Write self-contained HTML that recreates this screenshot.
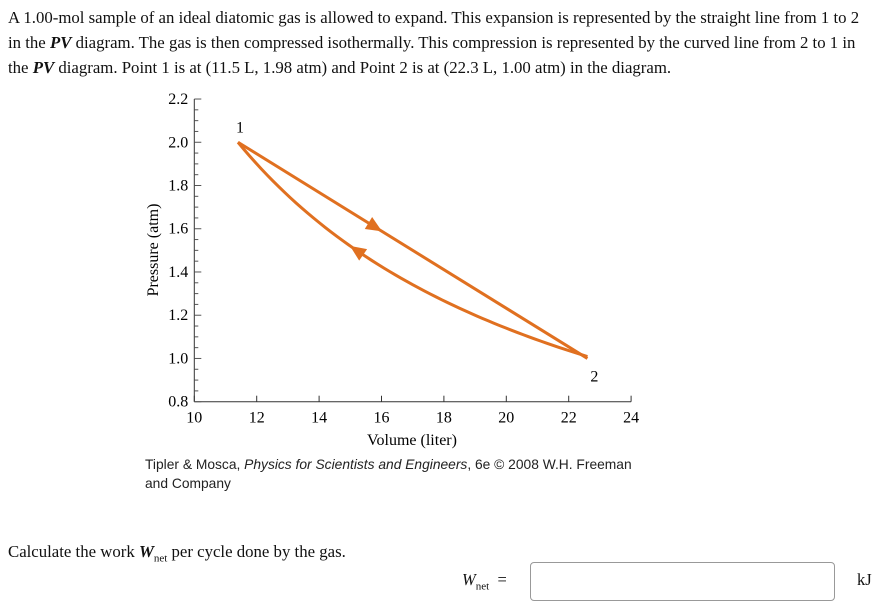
<!DOCTYPE html>
<html><head><meta charset="utf-8"><style>
body{margin:0;width:876px;height:604px;background:#fff;position:relative;overflow:hidden;font-family:"Liberation Serif",serif;color:#111}
.p{position:absolute;left:8px;top:5px;width:868px;font-size:16.8px;line-height:25px;white-space:nowrap}
.cap{position:absolute;left:145px;top:455px;font-family:"Liberation Sans",sans-serif;font-size:13.8px;line-height:19px;color:#222}
.q{position:absolute;left:8px;top:542px;font-size:16.8px}
</style></head><body>
<div class="p">A 1.00-mol sample of an ideal diatomic gas is allowed to expand. This expansion is represented by the straight line from 1 to 2<br>in the <b><i>PV</i></b> diagram. The gas is then compressed isothermally. This compression is represented by the curved line from 2 to 1 in<br>the <b><i>PV</i></b> diagram. Point 1 is at (11.5 L, 1.98 atm) and Point 2 is at (22.3 L, 1.00 atm) in the diagram.</div>
<svg id="chart" style="position:absolute;left:0;top:0" width="876" height="604"></svg>
<div class="cap">Tipler &amp; Mosca, <i>Physics for Scientists and Engineers</i>, 6e © 2008 W.H. Freeman<br>and Company</div>
<div class="q">Calculate the work <b><i>W</i></b><sub style="font-size:11px">net</sub> per cycle done by the gas.</div>
<div style="position:absolute;left:462px;top:570px;font-size:16.5px"><i>W</i><sub style="font-size:11px">net</sub> &nbsp;=</div>
<input style="position:absolute;left:530px;top:562px;width:305px;height:39px;box-sizing:border-box;border:1px solid #999;border-radius:4px;outline:none">
<div style="position:absolute;left:857px;top:570px;font-size:16.5px">kJ</div>
<script>
const xTicks=[10,12,14,16,18,20,22,24];
const yTicks=[0.8,1.0,1.2,1.4,1.6,1.8,2.0,2.2];
const p1=[11.4,2.0];
const p2=[22.6,1.0];
const xLabel="Volume (liter)", yLabel="Pressure (atm)";
const svg=document.getElementById('chart'),NS='http://www.w3.org/2000/svg';
const X=v=>194.3+(v-10)*31.2, Y=p=>401.7-(p-0.8)*216.2;
function el(t,a,txt){const e=document.createElementNS(NS,t);for(const k in a)e.setAttribute(k,a[k]);if(txt!=null)e.textContent=txt;svg.appendChild(e);return e;}
const c='#e07020';
let e=el('line',{x1:X(10),y1:Y(0.8),x2:X(24),y2:Y(0.8),stroke:'#333'});

e=el('line',{x1:X(10),y1:Y(0.8),x2:X(10),y2:Y(2.2),stroke:'#333'});

xTicks.forEach(v=>{el('line',{x1:X(v),y1:Y(0.8),x2:X(v),y2:Y(0.8)-6,stroke:'#333'});
 e=el('text',{x:X(v),y:Y(0.8)+21,'text-anchor':'middle','font-size':16,'font-family':'Liberation Serif'},v);
 });
for(let p=0.8;p<=2.201;p+=0.05){const maj=Math.abs(p*5-Math.round(p*5))<1e-6;el('line',{x1:X(10),y1:Y(p),x2:X(10)+(maj?7:4),y2:Y(p),stroke:'#555'});}
yTicks.forEach(p=>{e=el('text',{x:X(10)-6,y:Y(p)+5,'text-anchor':'end','font-size':16,'font-family':'Liberation Serif'},p.toFixed(1));
 });
e=el('text',{x:412,y:445,'text-anchor':'middle','font-size':16,'font-family':'Liberation Serif'},xLabel);

e=el('text',{x:0,y:0,'text-anchor':'middle','font-size':16,'font-family':'Liberation Serif',transform:'translate(158,250) rotate(-90)'},yLabel);

e=el('line',{x1:X(p1[0]),y1:Y(p1[1]),x2:X(p2[0]),y2:Y(p2[1]),stroke:c,'stroke-width':3});

const k=p1[0]*p1[1];let d='';
for(let i=0;i<=60;i++){const v=p1[0]+(p2[0]-p1[0])*i/60;d+=(i?'L':'M')+X(v)+','+Y(k/v);}
e=el('path',{d:d,stroke:c,'stroke-width':3,fill:'none'});

function arrow(x,y,ang,name){const a=el('polygon',{points:'8,0 -8,-7 -8,7',fill:c,transform:`translate(${x},${y}) rotate(${ang})`});
 }
const ang1=Math.atan2(Y(p2[1])-Y(p1[1]),X(p2[0])-X(p1[0]))*180/Math.PI;
arrow(X(15.8),Y(p1[1]+(p2[1]-p1[1])*(15.8-p1[0])/(p2[0]-p1[0])),ang1,'expansion-arrow');
const va=15.2,dv=0.1;const ang2=Math.atan2(Y(k/(va-dv))-Y(k/va),X(va-dv)-X(va))*180/Math.PI;
arrow(X(va),Y(k/va),ang2,'compression-arrow');
e=el('text',{x:X(p1[0])+2,y:Y(p1[1])-10,'text-anchor':'middle','font-size':16,'font-family':'Liberation Serif'},'1');

e=el('text',{x:X(p2[0])+7,y:Y(p2[1])+23,'text-anchor':'middle','font-size':16,'font-family':'Liberation Serif'},'2');

</script>
</body></html>
